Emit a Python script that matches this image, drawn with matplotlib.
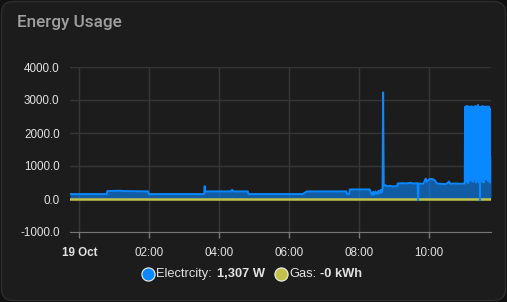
import pandas as pd
import matplotlib.pyplot as plt
import matplotlib.dates as mdates
from matplotlib.patches import FancyBboxPatch
from matplotlib.lines import Line2D
from matplotlib.ticker import FormatStrFormatter

# minutes from midnight of 19 Oct, electricity in W
elec_minutes = [-16, 47, 48, 70, 75, 118, 119, 214, 215, 216, 260, 262, 264, 289, 290,
                383, 390, 458, 459, 463, 464, 465, 498, 500, 502, 504, 506, 508, 511, 513,
                515, 517, 519, 520, 521, 522, 525, 528, 532, 538, 545, 546, 555, 560, 568,
                573, 580, 581, 582, 583, 590, 594, 596, 600, 605, 610, 613, 620, 627, 630,
                634, 636, 645, 655, 660,
                661, 661.5, 662, 662.5, 663, 663.5, 664, 664.5, 665, 665.5, 666, 666.5, 667,
                667.5, 668, 668.5, 669, 669.5, 670, 670.5, 671, 671.5, 672, 672.5, 673,
                673.5, 674, 674.5, 675, 675.5, 676, 676.5, 677, 677.5, 678, 678.5, 679,
                679.5, 680, 680.5, 681, 681.5, 682, 682.5, 683, 683.5, 684, 684.5, 685,
                685.5, 686, 686.5, 687, 687.5, 688, 688.5, 689, 689.5, 690, 690.5, 691,
                691.5, 692, 692.5, 693, 693.5, 694, 694.5, 695, 695.5, 696, 696.5, 697,
                697.5, 698, 698.5, 699, 699.5, 700, 700.5, 701, 701.5, 702, 702.5, 703,
                703.5, 704, 704.5, 705, 706]
elec_watts = [150, 150, 240, 250, 240, 230, 150, 150, 390, 230, 230, 280, 230, 230, 150,
              150, 230, 230, 150, 150, 290, 290, 290, 200, 120, 220, 130, 230, 150, 250,
              170, 280, 200, 300, 3230, 400, 420, 380, 400, 380, 390, 470, 480, 470, 490,
              470, 480, -40, 470, 470, 460, 620, 520, 600, 610, 560, 470, 460, 450, 460,
              530, 460, 470, 460, 470,
              470, 2750, 2800, 600, 2780, 2700, 520, 2820, 2650, 900, 2800, 500, 480, 2750,
              2800, 700, 2780, 2600, 550, 2800, 2200, 2790, 600, 2750, 2810, 1500, 2700,
              520, 2780, 2650, 800, 2750, 2400, 2100, 2800, 600, 2700, 2820, 500, 2750,
              2300, 2000, 2780, 550, 2700, 2850, 700, 2800, 2600, 500, 2700, 2780, -40,
              2750, 2500, 600, 2800, 2100, 1900, 2780, 520, 2700, 2820, 650, 2750, 2600,
              500, 2780, 2700, 900, 2800, 1800, 2750, 600, 2800, 2400, 700, 2750, 2800,
              550, 2790, 2650, 600, 2800, 2200, 2750, 500, 2700, 1307, 1307]
gas_minutes = [-16, 706]
gas_kwh = [0, 0]

y_ticks = [-1000, 0, 1000, 2000, 3000, 4000]
legend_names = ["Electrcity:", "Gas:"]
legend_values = ["1,307 W", "-0 kWh"]

ELEC = '#0a88ff'
GAS = '#c2c24a'
TEXT = '#e2e2e2'

day = pd.Timestamp('2023-10-19')
elec_t = day + pd.to_timedelta(elec_minutes, unit='min')
gas_t = day + pd.to_timedelta(gas_minutes, unit='min')

W, H = 507, 302
fig = plt.figure(figsize=(W / 100, H / 100), dpi=100)
fig.patch.set_facecolor('#111111')
card = FancyBboxPatch((1.5, 1.5), W - 3, H - 3, boxstyle="round,pad=0,rounding_size=12",
                      transform=None, facecolor='#1c1c1c', edgecolor='#2e2e2e', linewidth=1,
                      zorder=-5)
fig.patches.append(card)


def fx(x):
    return x / W


def fy(y):
    return 1 - y / H


fig.text(fx(17), fy(27), "Energy Usage", color='#a0a0a0', fontsize=12.3,
         family='Roboto', weight='medium', va='baseline')

ax = fig.add_axes([fx(70), fy(232), 421 / W, 165 / H])
ax.set_facecolor('none')

ax.fill_between(elec_t, elec_watts, 0, color=ELEC, alpha=0.6, lw=0, zorder=2)
ax.plot(gas_t, gas_kwh, color=GAS, lw=1.8, zorder=3)
ax.plot(elec_t, elec_watts, color=ELEC, lw=1.4, zorder=4)

ax.set_ylim(-1000, 4000)
ax.set_yticks(y_ticks)
ax.yaxis.set_major_formatter(FormatStrFormatter('%.1f'))
ax.set_xlim(gas_t[0], gas_t[-1])
ax.xaxis.set_major_locator(mdates.HourLocator(byhour=range(0, 24, 2)))
ax.xaxis.set_major_formatter(mdates.DateFormatter('%H:%M'))

ax.grid(True, color='#363636', lw=1)
for s in ['left', 'right', 'top']:
    ax.spines[s].set_visible(False)
ax.spines['bottom'].set_color('#777777')
ax.tick_params(axis='y', length=0, pad=7.5, labelsize=8.4, labelcolor=TEXT)
ax.tick_params(axis='x', length=4.5, width=1, color='#777777', pad=6, labelsize=8.4,
               labelcolor=TEXT)
for lbl in ax.get_yticklabels() + ax.get_xticklabels():
    lbl.set_family('Liberation Sans')

fig.canvas.draw()
labels = [l.get_text() for l in ax.get_xticklabels()]
labels[0] = '19 Oct'
ax.set_xticks(ax.get_xticks())
ax.set_xticklabels(labels, family='Liberation Sans')
ax.get_xticklabels()[0].set_weight('bold')

# legend
for cx, col, tx, vx, name, val in [(147.7, ELEC, 155.7, 216.7, legend_names[0], legend_values[0]),
                                   (280.7, GAS, 289, 320, legend_names[1], legend_values[1])]:
    fig.add_artist(Line2D([fx(cx)], [fy(274.3)], marker='o', markersize=9.5,
                          markerfacecolor=col, markeredgecolor='#f0f0f0', markeredgewidth=0.8,
                          transform=fig.transFigure))
    fig.text(fx(tx), fy(274.3), name, color=TEXT, fontsize=9.3, family='Liberation Sans',
             va='center')
    fig.text(fx(vx), fy(274.3), val, color=TEXT, fontsize=9.3, family='Liberation Sans',
             weight='bold', va='center')

fig.savefig('out.png', dpi=100, facecolor=fig.get_facecolor())
